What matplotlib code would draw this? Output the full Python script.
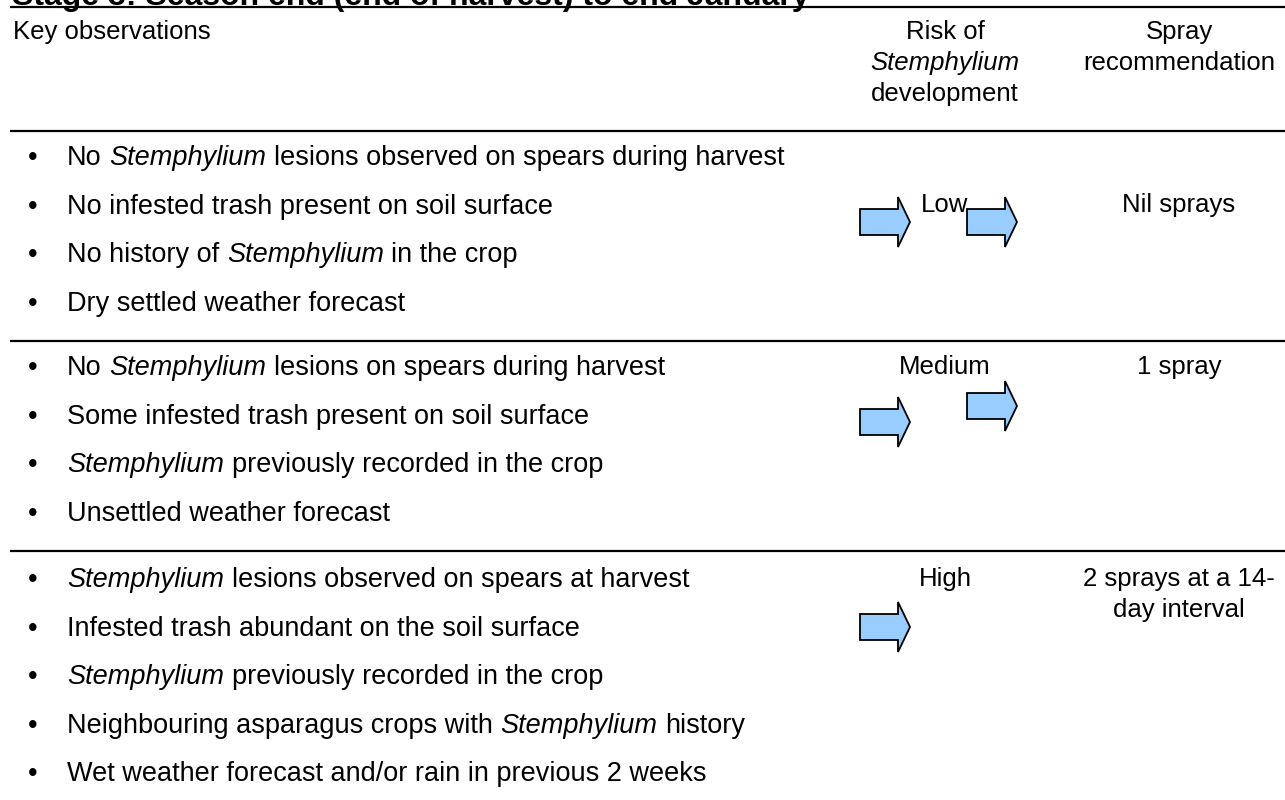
import matplotlib
matplotlib.use('Agg')
import matplotlib.pyplot as plt
from matplotlib.patches import Polygon

plt.rcParams['font.family'] = ['Liberation Sans', 'DejaVu Sans']

title = "Stage 3: Season end (end of harvest) to end January"
col_headers = ["Key observations", ["Risk of", "*Stemphylium*", "development"], ["Spray", "recommendation"]]

obs_low = ["No *Stemphylium* lesions observed on spears during harvest",
           "No infested trash present on soil surface",
           "No history of *Stemphylium* in the crop",
           "Dry settled weather forecast"]
obs_medium = ["No *Stemphylium* lesions on spears during harvest",
              "Some infested trash present on soil surface",
              "*Stemphylium* previously recorded in the crop",
              "Unsettled weather forecast"]
obs_high = ["*Stemphylium* lesions observed on spears at harvest",
            "Infested trash abundant on the soil surface",
            "*Stemphylium* previously recorded in the crop",
            "Neighbouring asparagus crops with *Stemphylium* history",
            "Wet weather forecast and/or rain in previous 2 weeks"]
risk = ["Low", "Medium", "High"]
sprays = [["Nil sprays"], ["1 spray"], ["2 sprays at a 14-", "day interval"]]

fig = plt.figure(figsize=(12.85, 8), dpi=100)
ax = fig.add_axes([0, 0, 1, 1])
ax.set_xlim(0, 1285)
ax.set_ylim(800, 0)
ax.axis('off')
renderer = fig.canvas.get_renderer()

fs = 18.5    # headers / right columns
fs_b = 19.5  # bullet text


def width(s, size, style='normal'):
    t = ax.text(0, 0, s, fontsize=size, fontstyle=style)
    w = t.get_window_extent(renderer).width
    t.remove()
    return w


def rich_line(x, y, s, size, ha='left'):
    # text with *italic* parts, laid out piece by piece
    parts = s.split('*')
    sp = width("x x", size) - width("xx", size)
    pieces = []
    for k, p in enumerate(parts):
        if not p:
            continue
        style = 'italic' if k % 2 else 'normal'
        lead = sp if p.startswith(' ') else 0
        trail = sp if p.endswith(' ') else 0
        core = p.strip()
        pieces.append((lead, core, style, width(core, size, style), trail))
    total = sum(a + c + d for a, _, _, c, d in pieces)
    cx = x - total / 2 if ha == 'center' else x
    for lead, core, style, w, trail in pieces:
        cx += lead
        ax.text(cx, y, core, fontsize=size, fontstyle=style, va='baseline', ha='left')
        cx += w + trail


# title (clipped at top like the original)
ax.text(12, 5, title, fontsize=23, fontweight='bold', va='baseline', ha='left')

# rules
for y in [7, 131, 341, 551]:
    ax.plot([10, 1285], [y, y], color='black', lw=1.6, solid_capstyle='butt')

# headers
ax.text(13, 39, col_headers[0], fontsize=fs, va='baseline')
for i, line in enumerate(col_headers[1]):
    rich_line(945, 39 + 31 * i, line, fs, ha='center')
for i, line in enumerate(col_headers[2]):
    ax.text(1179, 39 + 31 * i, line, fontsize=fs, va='baseline', ha='center')

# observation bullets
step = 48.6
for start, items in zip([165, 375, 587], [obs_low, obs_medium, obs_high]):
    for i, item in enumerate(items):
        yb = start + step * i
        ax.text(33, yb, "\u2022", fontsize=fs_b, va='baseline', ha='center')
        rich_line(67, yb, item, fs_b)

# risk and spray columns
risk_y = [212, 374, 586]
for r, sp, yb in zip(risk, sprays, risk_y):
    ax.text(945, yb, r, fontsize=fs, va='baseline', ha='center')
    for j, line in enumerate(sp):
        ax.text(1179, yb + 31 * j, line, fontsize=fs, va='baseline', ha='center')


def block_arrow(x0, yc, length=50, body_h=26, head_h=50, head_len=12):
    xh = x0 + length - head_len
    pts = [(x0, yc - body_h / 2), (xh, yc - body_h / 2), (xh, yc - head_h / 2),
           (x0 + length, yc), (xh, yc + head_h / 2), (xh, yc + body_h / 2),
           (x0, yc + body_h / 2)]
    ax.add_patch(Polygon(pts, closed=True, facecolor='#99CCFF', edgecolor='black', lw=1.3, zorder=3))


arrows = [(860, 222), (967, 222), (860, 422), (967, 406), (860, 627)]
for x0, yc in arrows:
    block_arrow(x0, yc)

fig.savefig('out.png', dpi=100)
